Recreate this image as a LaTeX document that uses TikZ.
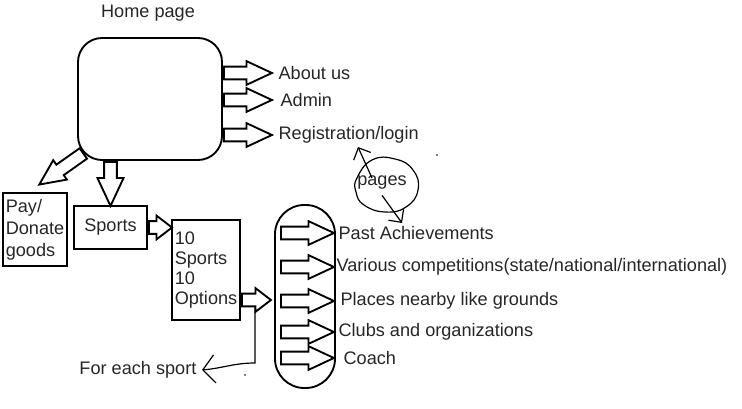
\documentclass[tikz,border=0pt]{standalone}
\usepackage{fontspec}
\setmainfont{Liberation Sans}
\usetikzlibrary{shapes.arrows,arrows.meta,calc}
\tikzset{
  lbl/.style={inner sep=4pt, text=black!85, font=\fontsize{13.6}{15}\selectfont},
  box/.style={lbl, draw, line width=1.4pt},
  fat/.style={single arrow, draw, line width=1.4pt, inner sep=4.1pt,
    single arrow head extend=4.1pt, single arrow tip angle=50},
  stubby/.style={single arrow tip angle=75},
  pen/.style={line width=0.9pt},
  barb/.style={-{Straight Barb[length=9pt,width=21pt]}},
}
% hollow block arrow from #3 to #4, extra options #1
\newcommand\fatarrow[4][]{%
  \path let \p1=(#3), \p2=(#4), \n1={atan2(\y2-\y1,\x2-\x1)},
    \n2={veclen(\x2-\x1,\y2-\y1)} in
    node[fat, #1, minimum height=\n2, rotate=\n1, anchor=tail] (#2) at (\p1) {};}

\begin{document}
\begin{tikzpicture}[x=0.75pt,y=-0.75pt]
\useasboundingbox (0,0) rectangle (742,409);

% home page and its links
\node[lbl] (homelbl) at (148,13) {Home page};
\node[box, rounded corners=18pt, minimum width=108pt, minimum height=91.5pt] (home) at (150,99) {};
\node[lbl, anchor=west] (about) at (273,73) {About us};
\node[lbl, anchor=west] (admin) at (275,100) {Admin};
\node[lbl, anchor=west] (reg) at (273,135) {Registration/login};
\coordinate (hcol) at (271,0);
\foreach \l in {about,admin,reg}
  \fatarrow{h\l}{home.east |- \l.west}{hcol |- \l.west};

% left branch
\node[box, inner sep=1pt, align=left, font=\fontsize{13.6}{16.5}\selectfont, minimum width=48pt, minimum height=54.75pt] (pay) at (35,229.5) {Pay/\\Donate\\goods};
\node[box, minimum width=54.75pt, minimum height=32.25pt] (sports) at (110.5,227.5) {Sports};
\node[box, inner sep=1pt, align=left, minimum width=51pt, minimum height=75pt] (opts) at (206,270) {10\\Sports\\10\\Options};
\coordinate (dstart) at ([shift={(7,-8)}]home.south west);
\coordinate (dtip) at ([shift={(5,-8)}]pay.north);
\fatarrow{hpay}{dstart}{dtip}
\fatarrow[single arrow head extend=5pt]{hsports}{sports.north |- home.south}{sports.north}
\fatarrow[stubby]{sopts}{sports.east}{opts.west |- sports.east}

% options per sport
\node[box, rounded corners=22pt, minimum width=45pt, minimum height=137.25pt] (stad) at (305,296.5) {};
\node[lbl, anchor=west] (past) at (333,233) {Past Achievements};
\node[lbl, anchor=west] (various) at (331,267) {Various competitions(state/national/international)};
\node[lbl, anchor=west] (places) at (335,301) {Places nearby like grounds};
\node[lbl, anchor=west] (clubs) at (333,332) {Clubs and organizations};
\node[lbl, anchor=west] (coach) at (338,358) {Coach};
\coordinate (scol) at (280,0);
\coordinate (tcol) at (333,0);
\foreach \l in {past,various,places,clubs,coach}
  \fatarrow{s\l}{scol |- \l.west}{tcol |- \l.west};
\coordinate (otip) at (270,300);
\fatarrow[stubby]{ostad}{opts.east |- otip}{otip}

% for each sport
\node[lbl, anchor=east] (foreach) at (202,370) {For each sport};
\coordinate (oline) at (255,306);
\draw[pen, barb] (oline) -- ++(0,57) to[out=180,in=5] (foreach.east);

% pages note
\node[lbl] (pages) at (382,183) {pages};
\draw[pen] plot[smooth cycle, tension=0.8] coordinates {(357,178) (372,160) (395,159) (413,170) (418,190) (406,207) (385,212) (364,205) (356,192)};
\coordinate (pfrom) at ([shift={(-10,-5)}]pages.center);
\coordinate (pup) at (358,147);
\coordinate (pdown) at (402,223);
\draw[pen, -{Straight Barb[length=7pt,width=14pt]}] (pfrom) -- (pup);
\draw[pen, -{Straight Barb[length=7pt,width=14pt]}] (pages.south) -- (pdown);
\fill (437,155) circle (0.6pt) (245,375) circle (0.6pt);
\end{tikzpicture}
\end{document}
